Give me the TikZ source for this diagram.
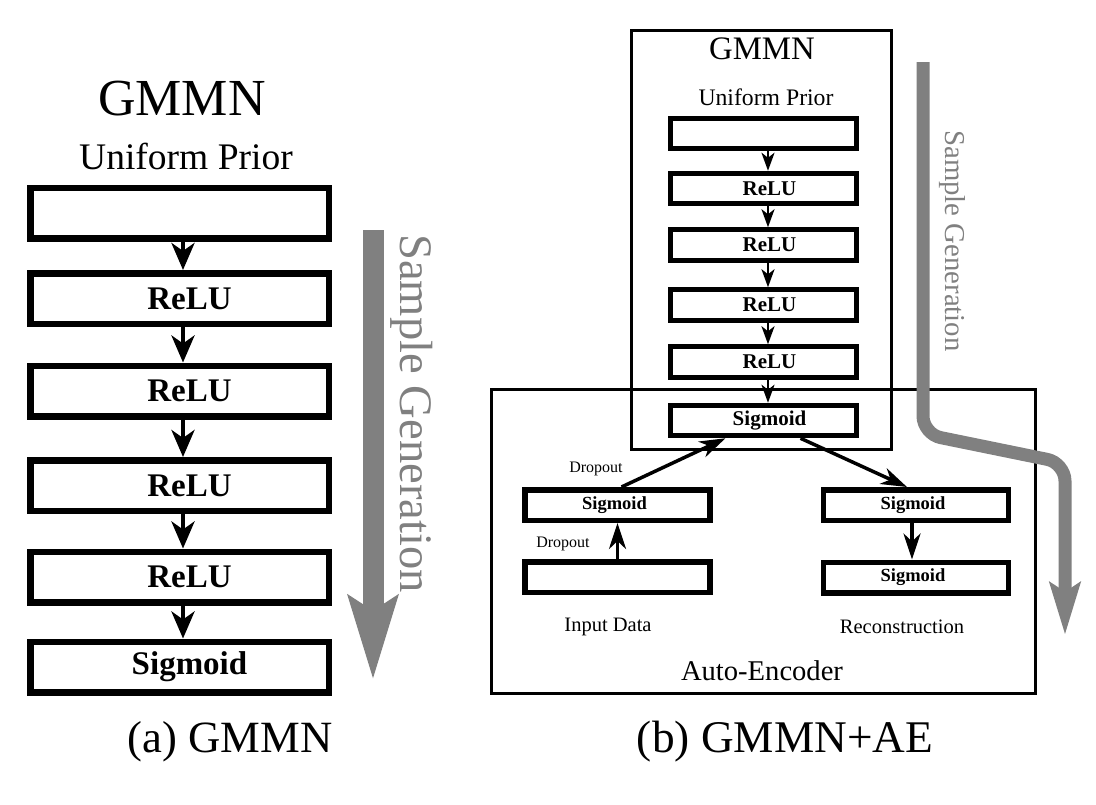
\documentclass[tikz,border=0pt]{standalone}
\usepackage{fontspec}
\setmainfont{Liberation Serif}
\usetikzlibrary{arrows.meta}
\newcommand{\fsz}[1]{\fontsize{#1}{#1}\selectfont}
\begin{document}
\begin{tikzpicture}[x=1pt,y=-1pt,
    bigbox/.style={draw, line width=6.5pt, minimum width=298.5pt, minimum height=50.5pt, inner sep=0pt,
        label={[font=\fsz{33}\bfseries, xshift=10pt]center:#1}},
    smallbox/.style={draw, line width=5pt, minimum width=186pt, minimum height=30.5pt, inner sep=0pt,
        label={[font=\fsz{21}\bfseries, xshift=6pt]center:#1}},
    aebox/.style={draw, line width=5.5pt, minimum width=185pt, minimum height=30.5pt, inner sep=0pt,
        label={[font=\fsz{18.5}\bfseries, xshift=-3pt]center:#1}},
    bigarrow/.style={line width=4.5pt, -{Stealth[length=27pt,width=23pt,inset=8pt]}},
    smallarrow/.style={line width=2.5pt, -{Stealth[length=18pt,width=13pt,inset=5pt]}},
    aearrow/.style={line width=3.5pt, -{Stealth[length=26pt,width=17pt,inset=8pt]}},
    frame/.style={line width=3pt},
    flow/.style={draw=gray, line cap=butt},
    flowtext/.style={anchor=base, rotate=-90, text=gray}]
    \useasboundingbox (0,0) rectangle (1096,804);

    \node[anchor=base, font=\fsz{52}] (ltitle) at (182,115) {GMMN};
    \node[anchor=base, font=\fsz{37.5}] (lprior) at (186,169) {Uniform Prior};
    \node[bigbox={}] (lin) at (179.5,213) {};
    \node[bigbox=ReLU] (lr1) at (179.5,298.5) {};
    \node[bigbox=ReLU] (lr2) at (179.5,391) {};
    \node[bigbox=ReLU] (lr3) at (179.5,485.5) {};
    \node[bigbox=ReLU] (lr4) at (179.5,577) {};
    \node[bigbox=Sigmoid] (lsig) at (179.5,667) {};

    \draw[bigarrow] ([xshift=3.5pt]lin.south) -- ([xshift=3.5pt]lr1.north);
    \draw[bigarrow] ([xshift=3.5pt]lr1.south) -- ([xshift=3.5pt]lr2.north);
    \draw[bigarrow] ([xshift=3.5pt]lr2.south) -- ([xshift=3.5pt]lr3.north);
    \draw[bigarrow] ([xshift=3.5pt]lr3.south) -- ([xshift=3.5pt]lr4.north);
    \draw[bigarrow] ([xshift=3.5pt]lr4.south) -- ([xshift=3.5pt]lsig.north);

    \draw[flow, line width=21pt, -{Stealth[length=83pt,width=48pt,inset=14pt]}] (373,230) -- (373,680);
    \node[flowtext, font=\fsz{46.6}] (lflow) at (400,413.5) {Sample Generation};
    \node[anchor=base, font=\fsz{44.7}] (capa) at (230,752) {(a) GMMN};

    \draw[frame] (631.5,30.5) rectangle (891.5,449.5);
    \draw[frame] (491.5,389.5) rectangle (1035.5,693.5);

    \node[anchor=base, font=\fsz{32.8}] (rtitle) at (762,59) {GMMN};
    \node[anchor=base, font=\fsz{23.7}] (rprior) at (766,105) {Uniform Prior};
    \node[smallbox={}] (rin) at (763.5,133.5) {};
    \node[smallbox=ReLU] (rr1) at (763.5,188.5) {};
    \node[smallbox=ReLU] (rr2) at (763.5,245) {};
    \node[smallbox=ReLU] (rr3) at (763.5,305) {};
    \node[smallbox=ReLU] (rr4) at (763.5,362) {};
    \node[smallbox=Sigmoid] (rsig) at (763.5,420.5) {};

    \draw[smallarrow] ([xshift=4.5pt]rin.south) -- ([xshift=4.5pt]rr1.north);
    \draw[smallarrow] ([xshift=4.5pt]rr1.south) -- ([xshift=4.5pt]rr2.north);
    \draw[smallarrow] ([xshift=4.5pt]rr2.south) -- ([xshift=4.5pt]rr3.north);
    \draw[smallarrow] ([xshift=4.5pt]rr3.south) -- ([xshift=4.5pt]rr4.north);
    \draw[smallarrow] ([xshift=4.5pt]rr4.south) -- ([xshift=4.5pt]rsig.north);

    \node[aebox=Sigmoid] (enc) at (617.5,505) {};
    \node[aebox={}] (inp) at (617.5,577) {};
    \node[aebox=Sigmoid] (dec) at (916,505) {};
    \node[aebox=Sigmoid] (rec) at (916,577.5) {};

    \draw[aearrow] (inp) -- (enc);
    \draw[aearrow] ([xshift=4pt]enc.north) -- ([xshift=-38pt]rsig.south);
    \draw[aearrow] ([xshift=37pt]rsig.south) -- ([xshift=-9pt]dec.north);
    \draw[aearrow] ([xshift=-4pt]dec.south) -- ([xshift=-4pt]rec.north);

    \node[anchor=base, font=\fsz{16}] (drop1) at (596,472) {Dropout};
    \node[anchor=base, font=\fsz{16}] (drop2) at (563,547) {Dropout};
    \node[anchor=base, font=\fsz{20.5}] (inlabel) at (608,631) {Input Data};
    \node[anchor=base, font=\fsz{20.5}] (reclabel) at (902,633) {Reconstruction};
    \node[anchor=base, font=\fsz{28.6}] (aelabel) at (762,680) {Auto-Encoder};

    \draw[flow, line width=13pt, rounded corners=18pt, -{Stealth[length=52pt,width=30pt,inset=9pt]}] (923,62) -- (923,434) -- (1065,463) -- (1065,635);
    \node[flowtext, font=\fsz{28.8}] (rflow) at (945,241) {Sample Generation};
    \node[anchor=base, font=\fsz{45.3}] (capb) at (785,752) {(b) GMMN+AE};
\end{tikzpicture}
\end{document}
